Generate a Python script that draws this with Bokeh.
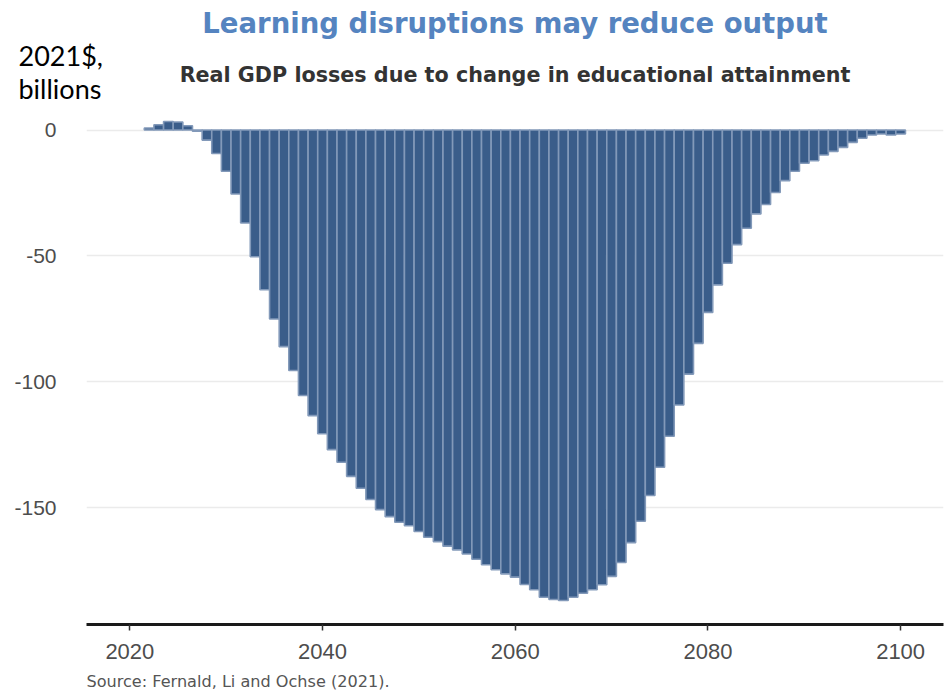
from bokeh.plotting import figure
from bokeh.layouts import column
from bokeh.models import Range1d, Label, ColumnDataSource, FixedTicker
from bokeh.embed import file_html
from bokeh.resources import INLINE

# Real GDP losses (2021$, billions) by year
years = list(range(2022, 2101))
losses = [
    0.8, 2.1, 3.4, 3.2, 1.7, -0.5, -4.0, -9.3, -16.4,          # 2022-2030
    -25.4, -36.9, -50.3, -63.4, -75.0, -86.0, -95.5, -105.4, -113.4, -120.6,   # 2031-2040
    -126.9, -131.9, -137.5, -142.2, -146.7, -150.7, -153.5, -155.7, -157.1, -159.4,  # 2041-2050
    -161.7, -163.4, -165.2, -166.7, -168.3, -170.4, -172.6, -174.6, -176.2, -177.5,  # 2051-2060
    -180.4, -182.5, -185.5, -186.4, -186.8, -185.5, -183.9, -182.5, -180.5, -177.2,  # 2061-2070
    -171.7, -163.8, -155.3, -145.1, -133.9, -121.6, -109.2, -96.9, -84.7, -72.4,     # 2071-2080
    -61.5, -52.9, -45.5, -39.0, -33.3, -29.6, -24.8, -20.1, -16.4, -13.2,            # 2081-2090
    -12.2, -9.9, -8.5, -6.9, -4.9, -3.3, -2.0, -1.6, -2.0, -1.6,                     # 2091-2100
]
x_ticks = [2020, 2040, 2060, 2080, 2100]
y_ticks = [0, -50, -100, -150]
y_tick_labels = ["0", "-50", "-100", "-150"]

title_text = "Learning disruptions may reduce output"
subtitle_text = "Real GDP losses due to change in educational attainment"
unit_lines = ["2021$,", "billions"]
source_text = "Source: Fernald, Li and Ochse (2021)."

W = 951
HEADER_H, MAIN_H, FOOTER_H = 104, 566, 20
LEFT, RIGHT, BOTTOM = 86, 8, 46


def text_panel(height):
    """A bare figure used as a canvas for free-standing text (pixel coords)."""
    f = figure(width=W, height=height, output_backend="svg", toolbar_location=None,
               x_range=Range1d(0, W), y_range=Range1d(0, height),
               x_axis_type=None, y_axis_type=None, title=None,
               min_border=0, min_border_left=0, min_border_right=0,
               min_border_top=0, min_border_bottom=0)
    f.outline_line_color = None
    f.grid.visible = False
    f.frame_align = False
    return f


# ---- header: title, subtitle, unit note ----
header = text_panel(HEADER_H)
plot_center = LEFT + (W - LEFT - RIGHT) / 2


def head_text(text, cx, top_offset, **kw):
    header.add_layout(Label(x=cx, y=HEADER_H - top_offset, text=text,
                            text_baseline="alphabetic", **kw))


head_text(title_text, plot_center, 22.8, text_align="center",
          text_font="DejaVu Sans", text_font_style="bold",
          text_font_size="27.5px", text_color="#5584c0")
head_text(subtitle_text, plot_center, 74.6, text_align="center",
          text_font="DejaVu Sans", text_font_style="bold",
          text_font_size="20.7px", text_color="#333333")
head_text(unit_lines[0], 18, 54.5, text_align="left",
          text_font="Lato", text_font_size="27px", text_color="#000000")
head_text(unit_lines[1], 18, 87.8, text_align="left",
          text_font="Lato", text_font_size="27px", text_color="#000000")

# ---- main bar chart ----
px_per_unit = 2.519
zero_from_top = 25.5
frame_h = MAIN_H - BOTTOM
y_top = zero_from_top / px_per_unit
y_bottom = y_top - frame_h / px_per_unit

p = figure(
    width=W, height=MAIN_H,
    output_backend="svg", toolbar_location=None, title=None,
    x_range=Range1d(2015.5, 2104.45),
    y_range=Range1d(y_bottom, y_top),
    min_border_left=LEFT, min_border_right=RIGHT,
    min_border_top=0, min_border_bottom=BOTTOM,
    background_fill_color="white", border_fill_color="white",
)
p.outline_line_color = None
p.frame_align = False

src = ColumnDataSource(data=dict(year=years, loss=losses))
p.vbar(x="year", top="loss", bottom=0, width=1.0, source=src,
       fill_color="#3a5d8a", line_color="#8299b9", line_width=1.6)

# Grid
p.xgrid.grid_line_color = None
p.ygrid.ticker = FixedTicker(ticks=y_ticks)
p.ygrid.grid_line_color = "#ebebeb"
p.ygrid.grid_line_width = 1.5

# X axis
xa = p.xaxis[0]
xa.ticker = FixedTicker(ticks=x_ticks)
xa.axis_line_color = "#1a1a1a"
xa.axis_line_width = 3
xa.major_tick_line_color = "#333333"
xa.major_tick_line_width = 1.5
xa.major_tick_out = 6
xa.major_tick_in = 0
xa.minor_tick_line_color = None
xa.major_label_text_font = "Liberation Sans"
xa.major_label_text_font_size = "22px"
xa.major_label_text_color = "#4d4d4d"
xa.major_label_standoff = 13

# Y axis
ya = p.yaxis[0]
ya.ticker = FixedTicker(ticks=y_ticks)
ya.major_label_overrides = {t: s for t, s in zip(y_ticks, y_tick_labels)}
ya.axis_line_color = None
ya.major_tick_line_color = None
ya.minor_tick_line_color = None
ya.major_label_text_font = "Liberation Sans"
ya.major_label_text_font_size = "21px"
ya.major_label_text_color = "#4d4d4d"
ya.major_label_standoff = 24

# ---- footer: source note ----
footer = text_panel(FOOTER_H)
footer.add_layout(Label(x=86, y=FOOTER_H - 10.6, text=source_text,
                        text_baseline="alphabetic", text_align="left",
                        text_font="DejaVu Sans", text_font_size="16.1px",
                        text_color="#555555"))

layout = column(header, p, footer, spacing=0)
open("out.html", "w").write(file_html(layout, INLINE))
